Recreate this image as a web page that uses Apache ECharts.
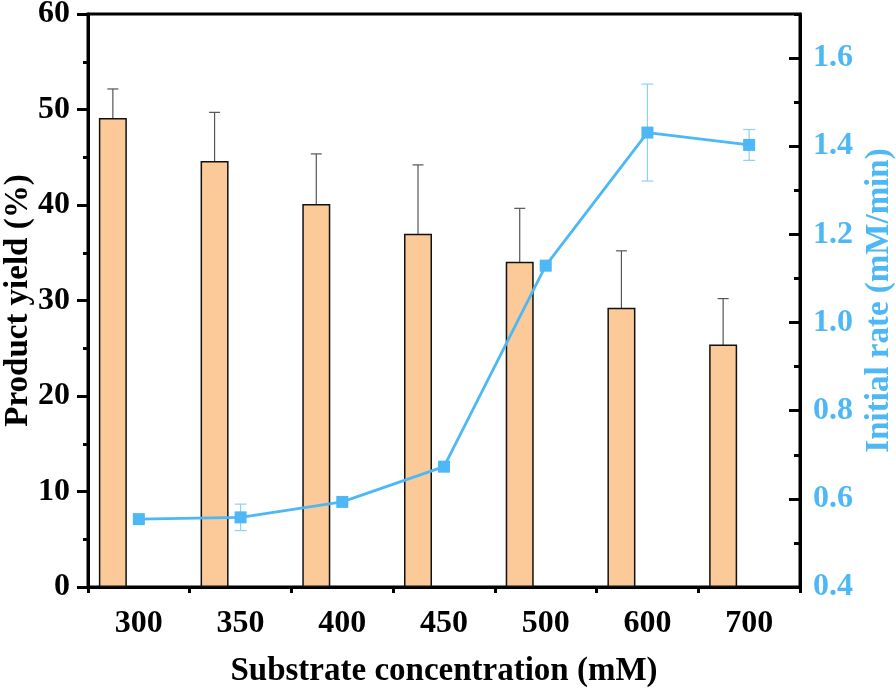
<!DOCTYPE html>
<html><head><meta charset="utf-8">
<script src="https://cdn.jsdelivr.net/npm/echarts@6/dist/echarts.min.js"></script>
<style>html,body{margin:0;padding:0;background:#fff}#c{width:896px;height:694px}</style>
</head><body><div id="c"></div>
<script>
const categories = ['300', '350', '400', '450', '500', '600', '700'];
const yieldValues = [49.1, 44.6, 40.1, 37.0, 34.05, 29.25, 25.4];
const yieldErrors = [3.05, 5.1, 5.25, 7.2, 5.6, 5.95, 4.8];
const rateValues = [0.554, 0.558, 0.593, 0.673, 1.129, 1.431, 1.403];
const rateErrors = [0.004, 0.030, 0.004, 0.004, 0.004, 0.110, 0.035];

const FONT = '"Liberation Serif", "Times New Roman", serif';
const BLUE = '#4DB8F5';
const BLUE_ERR = '#8ED0F5';
const BAR_W = 28;
const BAR_GAP_PX = 24;
const BAR_OFFSET = -(BAR_W + BAR_GAP_PX) / 2;

function errorRenderer(offsetPx, color, capW, lw) {
  return function (params, api) {
    const i = api.value(0), m = api.value(1), e = api.value(2);
    const top = api.coord([i, m + e]);
    const bot = api.coord([i, m - e]);
    const x = top[0] + offsetPx;
    const style = { stroke: color, lineWidth: lw, fill: null };
    return {
      type: 'group',
      children: [
        { type: 'line', shape: { x1: x, y1: top[1], x2: x, y2: bot[1] }, style },
        { type: 'line', shape: { x1: x - capW / 2, y1: top[1], x2: x + capW / 2, y2: top[1] }, style },
        { type: 'line', shape: { x1: x - capW / 2, y1: bot[1], x2: x + capW / 2, y2: bot[1] }, style }
      ]
    };
  };
}

const labelStyle = { fontFamily: FONT, fontWeight: 'bold', fontSize: 32, color: '#000' };
const nameStyle = { fontFamily: FONT, fontWeight: 'bold', fontSize: 33, color: '#000' };

const chart = echarts.init(document.getElementById('c'), null, { renderer: 'canvas' });
chart.setOption({
  animation: false,
  backgroundColor: '#fff',
  grid: {
    left: 88, right: 96, top: 14, bottom: 107, containLabel: false, outerBoundsMode: 'none',
    show: true, borderColor: '#000', borderWidth: 3, backgroundColor: 'transparent'
  },
  xAxis: [
    {
      type: 'category', data: categories, position: 'bottom', boundaryGap: true,
      axisLine: { lineStyle: { color: '#000', width: 3 } },
      axisTick: { alignWithLabel: true, length: 11, lineStyle: { color: '#000', width: 3 } },
      axisLabel: Object.assign({ margin: 21 }, labelStyle),
      splitLine: { show: false },
      name: 'Substrate concentration (mM)', nameLocation: 'middle', nameGap: 68, nameMoveOverlap: false,
      nameTextStyle: nameStyle
    },
    {
      type: 'category', data: categories, position: 'bottom', boundaryGap: true,
      axisLine: { show: false },
      axisTick: { show: true, length: 6, lineStyle: { color: '#000', width: 3 } },
      axisLabel: { show: false },
      splitLine: { show: false }
    }
  ],
  yAxis: [
    {
      type: 'value', min: 0, max: 60, interval: 10, position: 'left',
      axisLine: { show: true, lineStyle: { color: '#000', width: 3 } },
      axisTick: { show: true, length: 11, lineStyle: { color: '#000', width: 3 } },
      minorTick: { show: true, splitNumber: 2, length: 5, lineStyle: { color: '#000', width: 3 } },
      axisLabel: Object.assign({ margin: 18 }, labelStyle),
      splitLine: { show: false },
      name: 'Product yield (%)', nameLocation: 'middle', nameRotate: 90, nameGap: 53, nameMoveOverlap: false,
      nameTextStyle: nameStyle
    },
    {
      type: 'value', min: 0.4, max: 1.7, interval: 0.2, position: 'right',
      axisLine: { show: true, lineStyle: { color: '#000', width: 3 } },
      axisTick: { show: true, inside: true, length: 11, lineStyle: { color: '#000', width: 3 } },
      axisLabel: Object.assign({}, labelStyle, { color: BLUE, margin: 13, showMaxLabel: false, formatter: v => v.toFixed(1) }),
      splitLine: { show: false },
      name: 'Initial rate (mM/min)', nameLocation: 'middle', nameRotate: 90, nameGap: 63, nameMoveOverlap: false,
      nameTextStyle: Object.assign({}, nameStyle, { color: BLUE })
    },
    {
      type: 'value', min: 0.4, max: 1.7, interval: 0.1, position: 'right',
      axisLine: { show: false },
      axisTick: { show: true, inside: true, length: 6, lineStyle: { color: '#000', width: 3 } },
      axisLabel: { show: false },
      splitLine: { show: false }
    }
  ],
  series: [
    {
      name: 'Product yield', type: 'bar', xAxisIndex: 0, yAxisIndex: 0,
      data: yieldValues, barWidth: BAR_W, barGap: (BAR_GAP_PX / BAR_W * 100).toFixed(1) + '%',
      itemStyle: { color: '#FBCA98', borderColor: '#111', borderWidth: 1.5 }
    },
    {
      name: 'spacer', type: 'bar', xAxisIndex: 0, yAxisIndex: 0,
      data: categories.map(() => '-'), barWidth: BAR_W, silent: true
    },
    {
      name: 'yield error', type: 'custom', xAxisIndex: 0, yAxisIndex: 0,
      data: yieldValues.map((v, i) => [i, v, yieldErrors[i]]),
      encode: { x: 0, y: 1 },
      renderItem: errorRenderer(BAR_OFFSET, '#555', 11, 1.2), silent: true
    },
    {
      name: 'rate error', type: 'custom', xAxisIndex: 0, yAxisIndex: 1,
      data: rateValues.map((v, i) => [i, v, rateErrors[i]]),
      encode: { x: 0, y: 1 },
      renderItem: errorRenderer(0, BLUE_ERR, 12, 1.2), silent: true
    },
    {
      name: 'Initial rate', type: 'line', xAxisIndex: 0, yAxisIndex: 1,
      data: rateValues, symbol: 'rect', symbolSize: 12, showAllSymbol: true,
      itemStyle: { color: BLUE }, lineStyle: { color: BLUE, width: 2.8 }, z: 5
    }
  ]
});
</script>
</body></html>
